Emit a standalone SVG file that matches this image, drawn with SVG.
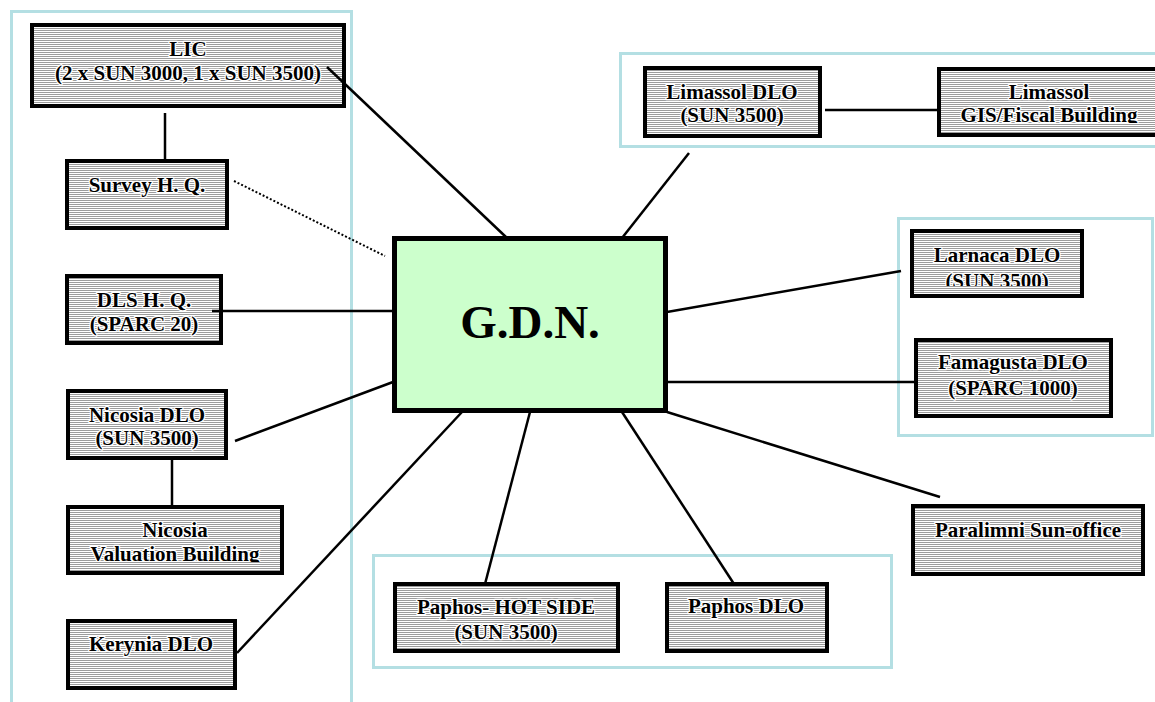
<svg xmlns="http://www.w3.org/2000/svg" width="1155" height="702" viewBox="0 0 1155 702">
<style>
.panel{fill:none;stroke:#b4dfe3;stroke-width:3}
.box{fill:url(#hatch);stroke:#000;stroke-width:4}
.t{font-family:"Liberation Serif","Times New Roman",serif;font-weight:bold;font-size:21px;text-anchor:middle;fill:#000;stroke:#fff;stroke-width:2.5;stroke-linejoin:round;paint-order:stroke}
.c{stroke:#000;stroke-width:2.5;fill:none}
.d{stroke:#000;stroke-width:2;stroke-dasharray:2 2;fill:none}
</style>
<defs>
<pattern id="hatch" width="4" height="2" patternUnits="userSpaceOnUse">
<rect width="4" height="2" fill="#fff"/>
<rect width="4" height="1" fill="#9c9c9c"/>
</pattern>
<clipPath id="clipVal"><rect x="60" y="500" width="230" height="62"/></clipPath>
<clipPath id="clipGis"><rect x="930" y="60" width="230" height="63"/></clipPath>
<clipPath id="clipLar"><rect x="905" y="225" width="185" height="61"/></clipPath>
</defs>
<rect width="1155" height="702" fill="#fff"/>
<g id="panels">
<rect class="panel" x="11.5" y="11.5" width="340" height="700"/>
<rect class="panel" x="620.5" y="53.5" width="560" height="93"/>
<rect class="panel" x="898.5" y="218.5" width="254" height="217"/>
<rect class="panel" x="373.5" y="555.5" width="518" height="112"/>
</g>
<g id="n-lic"><rect class="box" x="32" y="25" width="312" height="81"/><text class="t" x="188" y="56">LIC</text><text class="t" x="188" y="80">(2 x SUN 3000, 1 x SUN 3500)</text></g>
<g id="n-survey"><rect class="box" x="67" y="161" width="160" height="67"/><text class="t" x="147" y="192">Survey H. Q.</text></g>
<g id="n-dls"><rect class="box" x="67" y="276" width="154" height="67"/><text class="t" x="144" y="307">DLS H. Q.</text><text class="t" x="144" y="331">(SPARC 20)</text></g>
<g id="n-nicosia"><rect class="box" x="68" y="391" width="158" height="67"/><text class="t" x="147" y="422">Nicosia DLO</text><text class="t" x="147" y="445">(SUN 3500)</text></g>
<g id="n-valuation"><rect class="box" x="68" y="507" width="214" height="66"/><g clip-path="url(#clipVal)"><text class="t" x="175" y="537">Nicosia</text><text class="t" x="175" y="561">Valuation Building</text></g></g>
<g id="n-kerynia"><rect class="box" x="68" y="621" width="167" height="67"/><text class="t" x="151" y="651">Kerynia DLO</text></g>
<g id="n-limassol"><rect class="box" x="645" y="68" width="175" height="68"/><text class="t" x="732" y="99">Limassol DLO</text><text class="t" x="732" y="122">(SUN 3500)</text></g>
<g id="n-gis"><rect class="box" x="939" y="69" width="230" height="66"/><g clip-path="url(#clipGis)"><text class="t" x="1049" y="99">Limassol</text><text class="t" x="1049" y="122">GIS/Fiscal Building</text></g></g>
<g id="n-larnaca"><rect class="box" x="912" y="231" width="170" height="65"/><g clip-path="url(#clipLar)"><text class="t" x="997" y="262">Larnaca DLO</text><text class="t" x="997" y="288">(SUN 3500)</text></g></g>
<g id="n-famagusta"><rect class="box" x="916" y="340" width="195" height="76"/><text class="t" x="1013" y="369">Famagusta DLO</text><text class="t" x="1013" y="395">(SPARC 1000)</text></g>
<g id="n-paralimni"><rect class="box" x="913" y="506" width="230" height="68"/><text class="t" x="1028" y="537">Paralimni Sun-office</text></g>
<g id="n-paphoshot"><rect class="box" x="395" y="584" width="223" height="67"/><text class="t" x="506" y="614">Paphos- HOT SIDE</text><text class="t" x="506" y="639">(SUN 3500)</text></g>
<g id="n-paphosdlo"><rect class="box" x="667" y="584" width="160" height="67"/><text class="t" x="746" y="613">Paphos DLO</text></g>
<g id="n-gdn"><rect x="394.5" y="238.5" width="271" height="172" fill="#ccffcc" stroke="#000" stroke-width="5"/><text x="530" y="338" text-anchor="middle" font-family="Liberation Serif, Times New Roman, serif" font-weight="bold" font-size="47">G.D.N.</text></g>
<g id="connectors">
<line class="c" x1="327" y1="67" x2="507" y2="238"/>
<line class="c" x1="165" y1="113" x2="165" y2="161"/>
<line class="d" x1="234" y1="181" x2="385" y2="256"/>
<line class="c" x1="212" y1="311" x2="393" y2="311"/>
<line class="c" x1="235" y1="441" x2="393" y2="382"/>
<line class="c" x1="172" y1="458" x2="172" y2="507"/>
<line class="c" x1="237" y1="653" x2="462" y2="412"/>
<line class="c" x1="689" y1="153" x2="622" y2="238"/>
<line class="c" x1="825" y1="110" x2="939" y2="110"/>
<line class="c" x1="667" y1="312" x2="901" y2="271"/>
<line class="c" x1="667" y1="382" x2="916" y2="382"/>
<line class="c" x1="667" y1="412" x2="940" y2="497"/>
<line class="c" x1="622" y1="412" x2="734" y2="584"/>
<line class="c" x1="530" y1="412" x2="485" y2="584"/>
</g>
</svg>
